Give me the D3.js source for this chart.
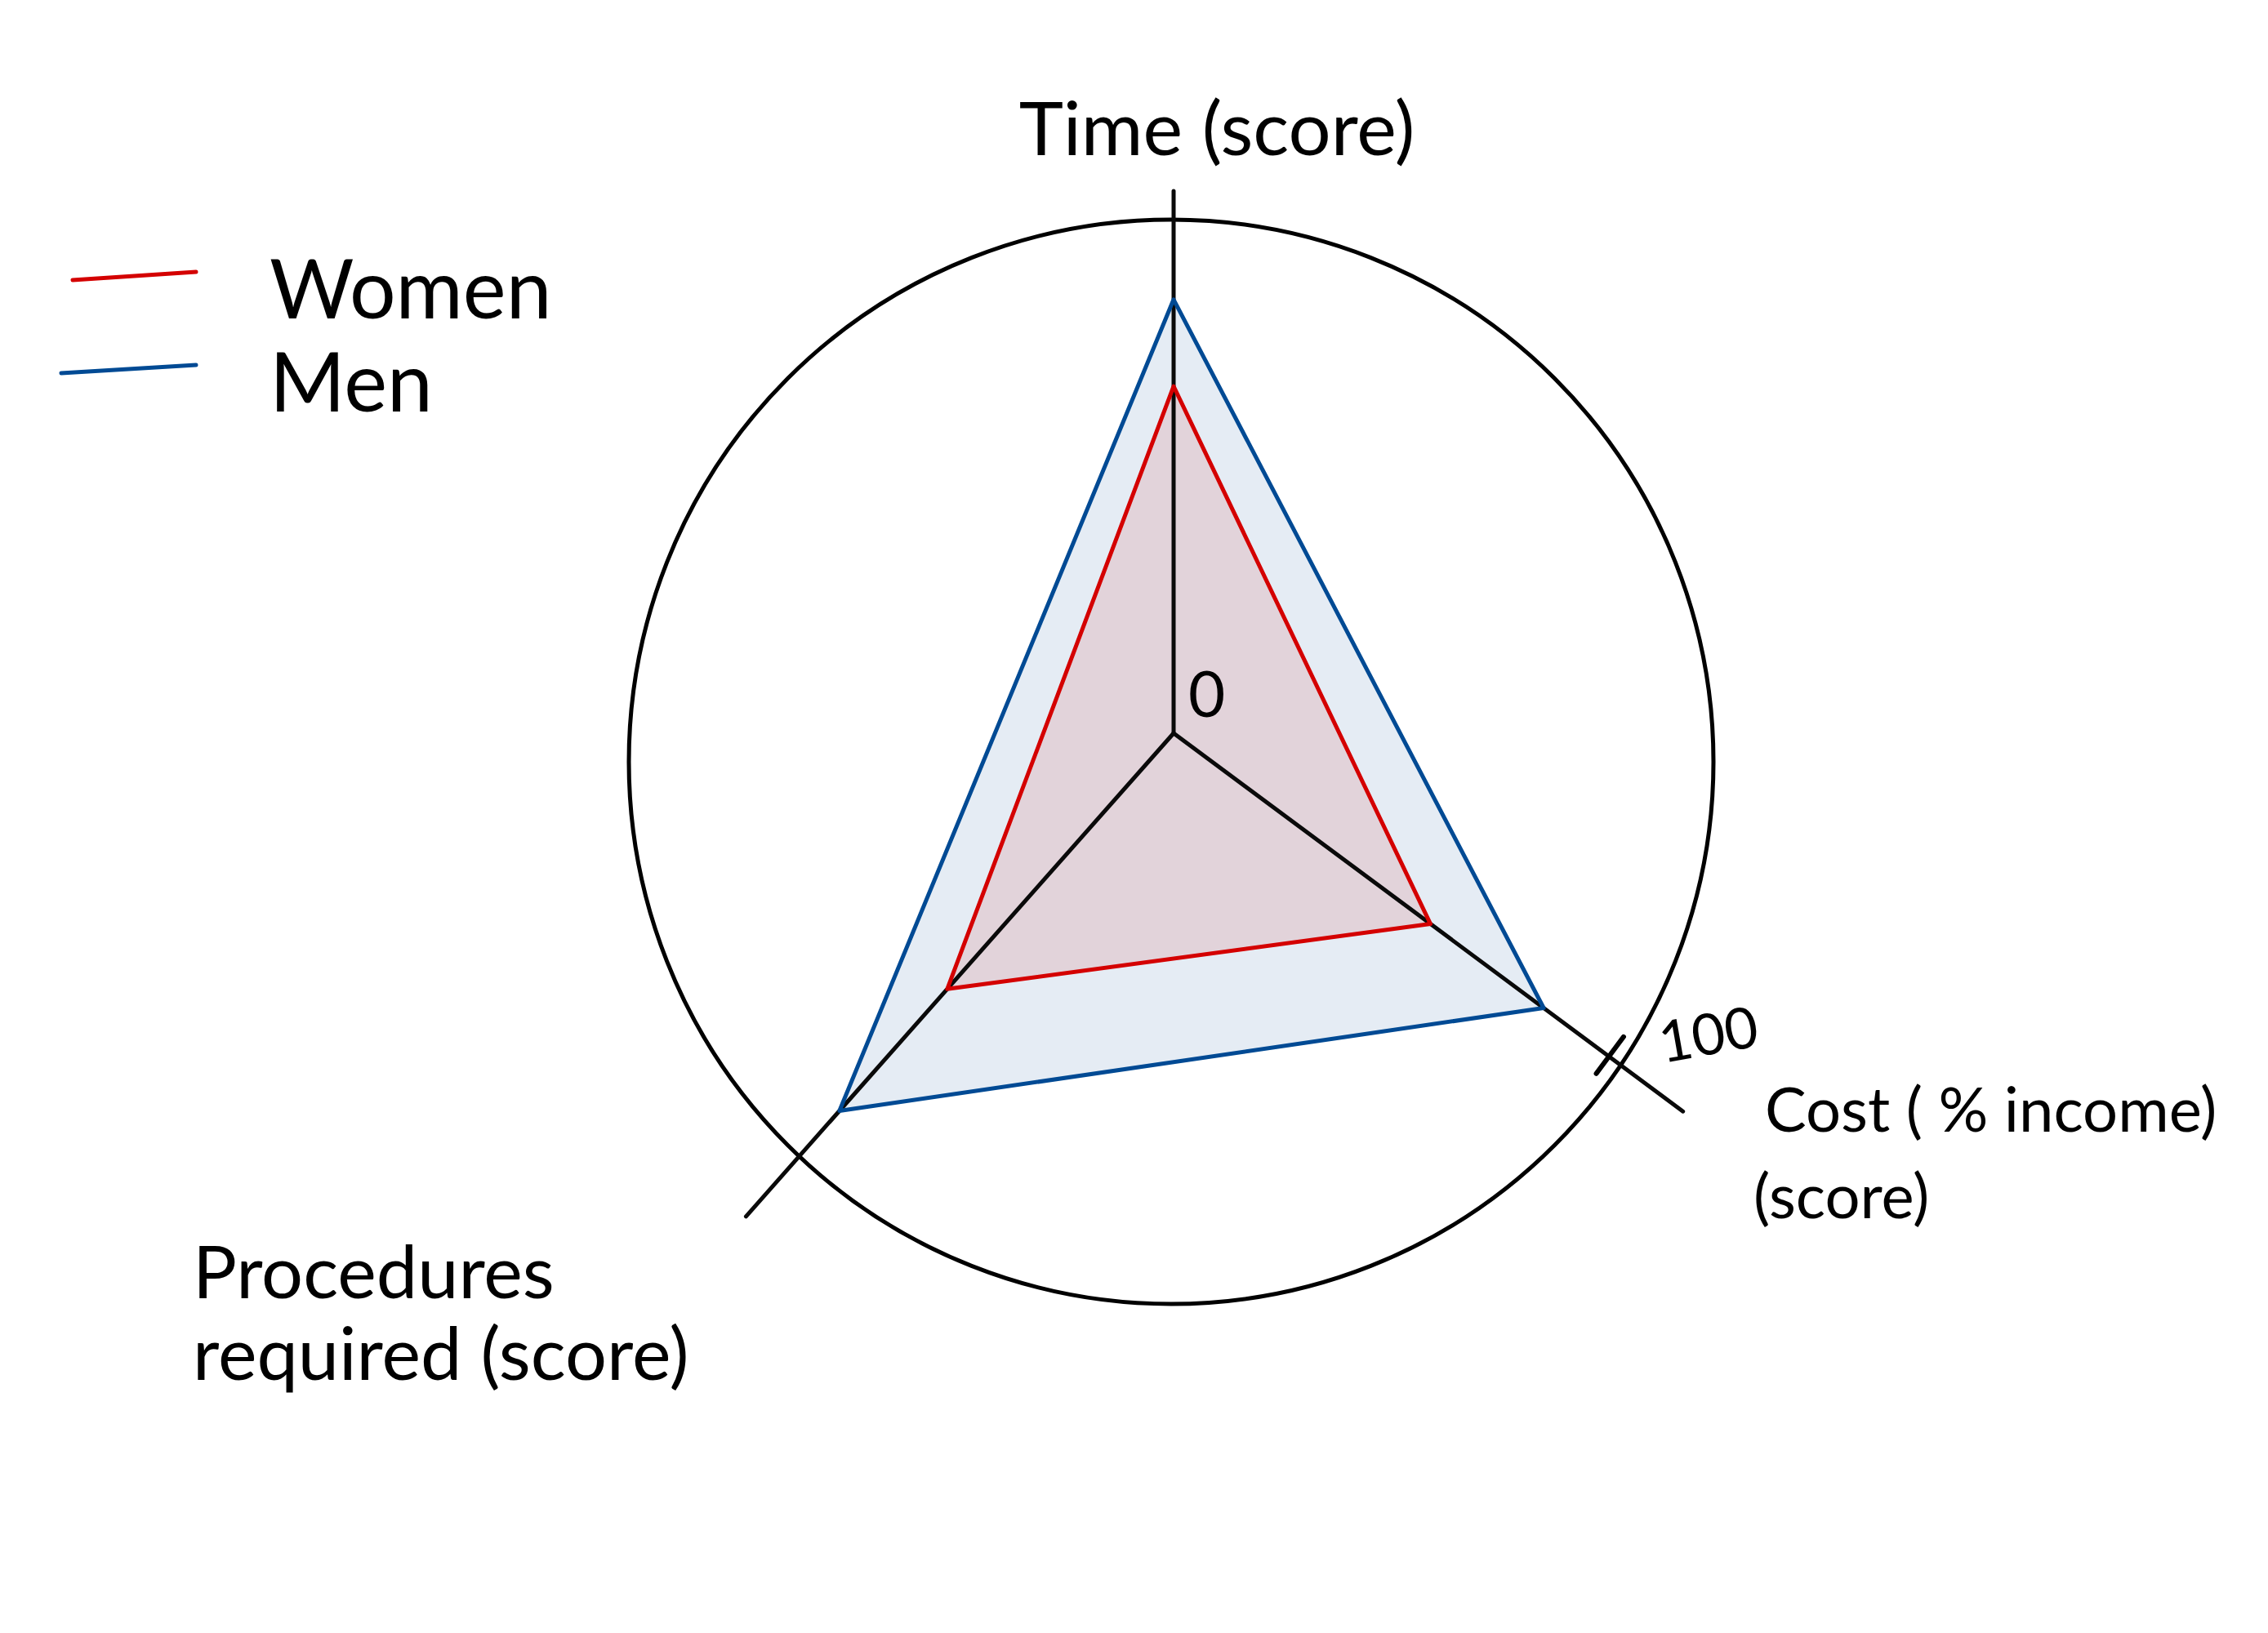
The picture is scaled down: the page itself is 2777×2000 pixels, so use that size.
<!DOCTYPE html>
<html><head><meta charset="utf-8">
<script src="https://cdn.jsdelivr.net/npm/d3@7"></script>
<style>body{margin:0;background:#fff}svg{display:block}</style>
</head><body>
<svg id="chart" width="2777" height="2000"></svg>
<script>
// ---- data ----
const axisNames = ["Time (score)", "Cost (% income) (score)", "Procedures required (score)"];
const axisLabelLines = [["Time (score)"], ["Cost ( % income)", "(score)"], ["Procedures", "required (score)"]];
const seriesNames = ["Women", "Men"];
const womenValues = [64, 59, 63];
const menValues = [80, 85, 93];
const tickValues = [0, 100];
const tickLabels = ["0", "100"];

// ---- layout ----
const W = 2777, H = 2000;
const cx = 1437, cy = 898;
const axisAnglesDeg = [0, 126.6, 221.5];       // clockwise from 12 o'clock
const axisExtent = [100, 117, 119];             // in score units
const colors = {Women: "#d40000", Men: "#004a94"};
const fills = {Women: "#e2d3da", Men: "#e5ecf4"};
const font = "Lato, 'Open Sans', sans-serif";

const svg = d3.select("#chart");
const r = d3.scaleLinear().domain([0, 100]).range([0, 664]);
const ang = axisAnglesDeg.map(a => a * Math.PI / 180);
const px = (i, v) => Math.sin(ang[i]) * r(v);
const py = (i, v) => -Math.cos(ang[i]) * r(v);

const g = svg.append("g").attr("transform", `translate(${cx},${cy})`);

// outer ring (score 100), hand-drawn slightly off-centre
g.append("circle")
  .attr("cx", -3).attr("cy", 35)
  .attr("r", r(tickValues[1]))
  .attr("fill", "none").attr("stroke", "#000").attr("stroke-width", 5);

// series polygons
const radial = d3.lineRadial()
  .angle((d, i) => ang[i])
  .radius(d => r(d))
  .curve(d3.curveLinearClosed);

const series = [{name: "Men", values: menValues}, {name: "Women", values: womenValues}];
g.selectAll("path.area").data(series).join("path")
  .attr("class", "area")
  .attr("d", d => radial(d.values))
  .attr("fill", d => fills[d.name]);

// axes
g.selectAll("line.axis").data(axisNames).join("line")
  .attr("class", "axis")
  .attr("x1", 0).attr("y1", 0)
  .attr("x2", (d, i) => px(i, axisExtent[i]))
  .attr("y2", (d, i) => py(i, axisExtent[i]))
  .attr("stroke", "#0a0a0a").attr("stroke-width", 5).attr("stroke-linecap", "round");

// series outlines
g.selectAll("path.outline").data(series).join("path")
  .attr("class", "outline")
  .attr("d", d => radial(d.values))
  .attr("fill", "none")
  .attr("stroke", d => colors[d.name])
  .attr("stroke-width", 5)
  .attr("stroke-linejoin", "round");

// tick mark at 100 on cost axis
{
  const i = 1, v = tickValues[1];
  const x = px(i, v), y = py(i, v);
  const nx = Math.cos(ang[i]), ny = Math.sin(ang[i]); // perpendicular
  g.append("line")
    .attr("x1", x - nx * 30).attr("y1", y - ny * 30)
    .attr("x2", x + nx * 26).attr("y2", y + ny * 26)
    .attr("stroke", "#000").attr("stroke-width", 6).attr("stroke-linecap", "round");
}

// tick labels
g.append("text").text(tickLabels[0])
  .attr("x", 18).attr("y", -20)
  .attr("font-family", font).attr("font-size", 78).attr("fill", "#000");
g.append("text").text(tickLabels[1])
  .attr("transform", `translate(${px(1, 100) + 66},${py(1, 100) + 8}) rotate(-10)`)
  .attr("font-family", font).attr("font-size", 70).attr("fill", "#000");

// axis labels
const labelPos = [
  {x: 1490, y: 190, anchor: "middle", size: 92, lh: 0},
  {x: 2161, y: 1386, anchor: "start", size: 76, lh: 106},
  {x: 236, y: 1590, anchor: "start", size: 90, lh: 100}
];
axisLabelLines.forEach((lines, i) => {
  const p = labelPos[i];
  const t = svg.append("text")
    .attr("font-family", font).attr("font-size", p.size)
    .attr("text-anchor", p.anchor).attr("fill", "#000");
  lines.forEach((ln, j) => {
    t.append("tspan").attr("x", p.x + (i === 1 && j === 1 ? -14 : 0))
      .attr("y", p.y + j * p.lh).text(ln);
  });
});

// legend
const legend = svg.append("g");
const legY = [338, 452];
seriesNames.forEach((name, k) => {
  legend.append("line")
    .attr("x1", k === 0 ? 89 : 75).attr("y1", legY[k] + 5)
    .attr("x2", 240).attr("y2", legY[k] - 5)
    .attr("stroke", colors[name]).attr("stroke-width", 5).attr("stroke-linecap", "round");
  legend.append("text").text(name)
    .attr("x", 330).attr("y", legY[k] + 52)
    .attr("font-family", font).attr("font-size", 100).attr("fill", "#000");
});
</script>
</body></html>
